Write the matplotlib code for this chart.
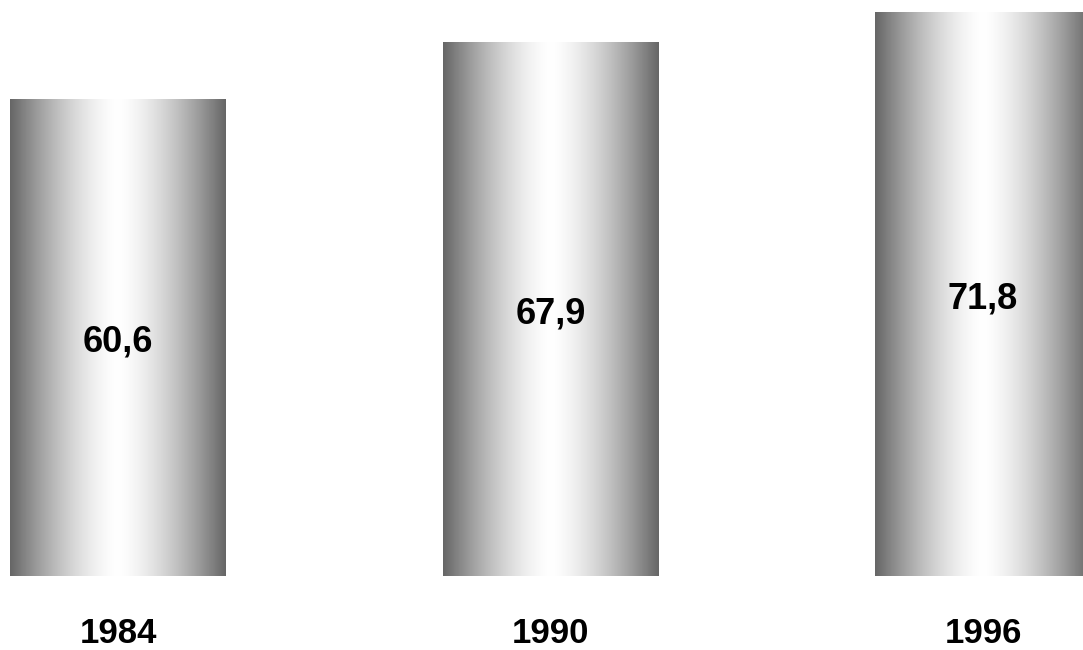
import numpy as np
import matplotlib
matplotlib.use("Agg")
import matplotlib.pyplot as plt
from matplotlib.colors import ListedColormap
from matplotlib import font_manager as fm

years = ["1984", "1990", "1996"]
values = [60.6, 67.9, 71.8]
value_labels = ["60,6", "67,9", "71,8"]

# pick regular-width Liberation Sans Bold (not the Narrow variant)
fp = None
for f in fm.fontManager.ttflist:
    if (f.name == "Liberation Sans" and f.weight in (700, "bold")
            and f.style == "normal" and "Narrow" not in f.fname):
        fp = fm.FontProperties(fname=f.fname)
        break
if fp is None:
    fp = fm.FontProperties(family="DejaVu Sans", weight="bold")

W, H, DPI = 1083, 650, 100
fig = plt.figure(figsize=(W / DPI, H / DPI), dpi=DPI)
fig.patch.set_facecolor("white")

base_px = 73.5          # baseline in pixels from bottom
px_per_unit = 7.855
spacing_px = 432.5
x0_px = 118.0
bar_w = 216.0 / spacing_px

ax = fig.add_axes([0, 0, 1, 1])
ax.axis("off")

# cylinder-like shading: dark gray at edges, white in the middle
t = np.linspace(-1, 1, 256)
g = 1 - 0.6 * np.abs(t) ** 1.5
cmap = ListedColormap(np.column_stack([g, g, g]))
grad = np.linspace(0, 1, 256).reshape(1, -1)

xs = np.arange(len(values))
year_y = -(643 - (H - base_px)) / px_per_unit
for x, v, lab in zip(xs, values, value_labels):
    ax.imshow(grad, cmap=cmap, aspect="auto", interpolation="bilinear",
              extent=[x - bar_w / 2, x + bar_w / 2, 0, v], zorder=1)
    ax.text(x, v / 2, lab, ha="center", va="center_baseline",
            fontproperties=fp, fontsize=26, color="black", zorder=3)
    ax.text(x, year_y, years[x], ha="center", va="baseline",
            fontproperties=fp, fontsize=25, color="black")

ax.set_xlim(-x0_px / spacing_px, (W - x0_px) / spacing_px)
ax.set_ylim(-base_px / px_per_unit, (H - base_px) / px_per_unit)

fig.savefig("out.png", dpi=DPI, facecolor="white")
